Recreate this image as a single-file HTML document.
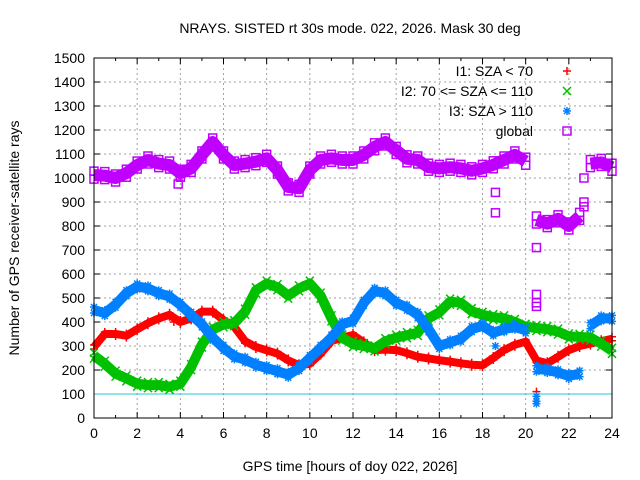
<!DOCTYPE html>
<html><head><meta charset="utf-8"><style>
body{margin:0;background:#fff;}
svg{display:block;font-family:"Liberation Sans",sans-serif;}
</style></head><body>
<svg id="c" width="640" height="480" viewBox="0 0 640 480"></svg>
<script>
const hours=[];for(let i=0;i<=48;i++)hours.push(i*0.5);
const i1Values=[296,350,350,343,370,395,415,430,400,415,443,443,408,380,320,296,282,268,240,220,226,268,320,335,346,315,283,285,283,270,255,248,241,235,228,222,220,250,283,305,318,240,228,255,283,300,310,320,330];
const i2Values=[260,226,185,165,143,137,137,130,143,212,306,368,390,395,443,532,560,545,510,540,560,510,415,335,308,300,290,320,335,345,355,415,440,485,480,445,430,420,415,400,380,375,370,360,340,338,335,310,280];
const i3Values=[450,437,472,520,548,540,520,506,472,430,390,335,292,257,243,222,208,195,180,208,250,292,335,390,405,480,530,520,480,460,430,370,300,315,330,370,385,355,370,380,365,205,200,190,175,185,385,415,415];
const globalValues=[1012,1010,1000,1020,1054,1075,1060,1054,1020,1040,1096,1150,1096,1054,1060,1068,1082,1033,963,957,1033,1075,1082,1075,1075,1096,1130,1150,1115,1080,1075,1045,1040,1045,1040,1030,1040,1055,1075,1096,1070,825,810,830,800,840,1060,1065,1045];
const globalOutX=[3.9,18.6,18.6,20.5,20.5,20.5,20.5,22.7,22.7,22.7];
const globalOutY=[975,940,855,710,515,480,465,1000,900,880];
const i3OutX=[18.6,20.5,20.5,20.5];
const i3OutY=[300,90,70,60];
const i1OutX=[20.5,3.7];
const i1OutY=[110,400];
const xTicks=[0,2,4,6,8,10,12,14,16,18,20,22,24];
const yTicks=[0,100,200,300,400,500,600,700,800,900,1000,1100,1200,1300,1400,1500];

const L=94,R=612,T=58,B=418;
const X=h=>L+(R-L)*h/24;
const Y=v=>B-(B-T)*v/1500;
const svg=document.getElementById('c');
const NS='http://www.w3.org/2000/svg';
function mk(tag,attrs,parent){const e=document.createElementNS(NS,tag);for(const k in attrs)e.setAttribute(k,attrs[k]);(parent||svg).appendChild(e);return e;}

for(const t of yTicks){if(t===0||t===1500)continue;
 const g=mk('line',{x1:L,x2:R,y1:Y(t),y2:Y(t),stroke:'#a0a0a0','stroke-dasharray':'2,3'});
 
 }
for(const t of xTicks){if(t===0||t===24)continue;
 const g=mk('line',{x1:X(t),x2:X(t),y1:T,y2:B,stroke:'#a0a0a0','stroke-dasharray':'2,3'});
 
 }
for(const t of yTicks){
 const tx=mk('text',{x:L-9,y:Y(t)+5,'text-anchor':'end','font-size':'14',fill:'#000'});tx.textContent=t;
 
 
 mk('line',{x1:L,x2:L+6,y1:Y(t),y2:Y(t),stroke:'#000'});
 mk('line',{x1:R,x2:R-6,y1:Y(t),y2:Y(t),stroke:'#000'});}
for(const t of xTicks){
 const tx=mk('text',{x:X(t),y:B+20,'text-anchor':'middle','font-size':'14',fill:'#000'});tx.textContent=t;
 
 
 mk('line',{x1:X(t),x2:X(t),y1:B,y2:B-6,stroke:'#000'});
 mk('line',{x1:X(t),x2:X(t),y1:T,y2:T+6,stroke:'#000'});}
for(let h=1;h<24;h+=2){mk('line',{x1:X(h),x2:X(h),y1:B,y2:B-3,stroke:'#000'});mk('line',{x1:X(h),x2:X(h),y1:T,y2:T+3,stroke:'#000'});}
const ref=mk('line',{x1:L,x2:R,y1:Y(100),y2:Y(100),stroke:'#20c8d8','stroke-width':1});



function marker(type,cx,cy,col,parent){
 if(type==='plus'){mk('path',{d:`M${cx-4} ${cy}h8M${cx} ${cy-4}v8`,stroke:col,'stroke-width':1.5},parent);}
 else if(type==='x'){mk('path',{d:`M${cx-4} ${cy-4}l8 8M${cx-4} ${cy+4}l8 -8`,stroke:col,'stroke-width':1.5},parent);}
 else if(type==='star'){mk('path',{d:`M${cx-4} ${cy}h8M${cx} ${cy-4}v8M${cx-3} ${cy-3}l6 6M${cx-3} ${cy+3}l6 -6`,stroke:col,'stroke-width':1.5},parent);}
 else {mk('rect',{x:cx-4,y:cy-4,width:8,height:8,fill:'none',stroke:col,'stroke-width':1.5},parent);}
}
function series(name,vals,col,type,w,ox,oy){
 const g=mk('g',{});
 
 
 let seg=[];
 const flush=()=>{if(seg.length>1)mk('polyline',{points:seg.join(' '),fill:'none',stroke:col,'stroke-width':w,'stroke-linejoin':'round','stroke-linecap':'butt'},g);seg=[];};
 vals.forEach((v,i)=>{if(i>0&&Math.abs(v-vals[i-1])>150)flush();seg.push(X(hours[i])+','+Y(v));});
 flush();
 vals.forEach((v,i)=>{marker(type,X(hours[i]),Y(v)-w/2+2,col,g);marker(type,X(hours[i]),Y(v)+w/2-2,col,g);});
 if(ox)ox.forEach((h,i)=>marker(type,X(h),Y(oy[i]),col,g));
}
series('series-i1',i1Values,'#ff0000','plus',8,i1OutX,i1OutY);
series('series-i2',i2Values,'#00c000','x',10,null,null);
series('series-i3',i3Values,'#0080ff','star',10,i3OutX,i3OutY);
series('series-global',globalValues,'#c000ff','square',12,globalOutX,globalOutY);

mk('rect',{x:L,y:T,width:R-L,height:B-T,fill:'none',stroke:'#000'});

const leg=[['I1: SZA < 70','#ff0000','plus'],['I2: 70 <= SZA <= 110','#00c000','x'],['I3: SZA > 110','#0080ff','star'],['global','#c000ff','square']];
leg.forEach((e,i)=>{const y=71+i*20;
 const g=mk('g',{});
 
 
 const t=mk('text',{x:533,y:y+5,'text-anchor':'end','font-size':'14'},g);t.textContent=e[0];
 marker(e[2],567,y,e[1],g);});

const title=mk('text',{x:350,y:33,'text-anchor':'middle','font-size':'14'});title.textContent='NRAYS. SISTED rt 30s mode. 022, 2026. Mask 30 deg';


const xl=mk('text',{x:350,y:471,'text-anchor':'middle','font-size':'14'});xl.textContent='GPS time [hours of doy 022, 2026]';


const yl=mk('text',{x:0,y:0,'text-anchor':'middle','font-size':'14',transform:'translate(19,238) rotate(-90)'});yl.textContent='Number of GPS receiver-satellite rays';


</script>
</body></html>
